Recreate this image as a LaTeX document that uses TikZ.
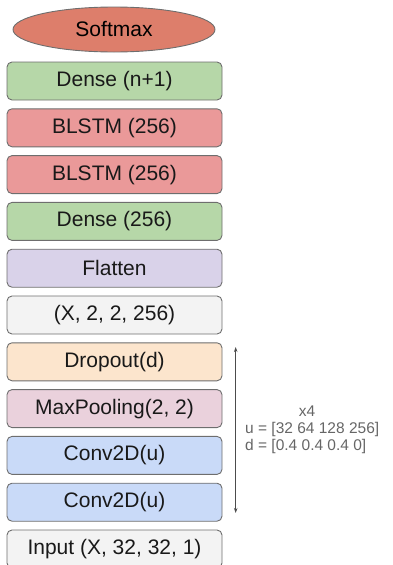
\documentclass[tikz,border=0pt]{standalone}
\usepackage{fontspec}
\setmainfont{Liberation Sans}
\usetikzlibrary{shapes.geometric,arrows.meta}
\definecolor{edgegray}{HTML}{6E6E6E}
\definecolor{smx}{HTML}{DD7E6B}
\definecolor{dns}{HTML}{B6D7A8}
\definecolor{bls}{HTML}{EA9999}
\definecolor{flt}{HTML}{D9D2E9}
\definecolor{gry}{HTML}{F3F3F3}
\definecolor{drp}{HTML}{FCE5CD}
\definecolor{mxp}{HTML}{EAD1DC}
\definecolor{cnv}{HTML}{C9DAF8}
\definecolor{txtgray}{HTML}{666666}
\tikzset{
  layer/.style={draw=edgegray, line width=0.9pt, rounded corners=5pt,
    minimum width=215pt, minimum height=38pt, inner sep=0pt,
    font=\fontsize{21}{24}\selectfont, text=black!90},
  note/.style={font=\fontsize{15.5}{18}\selectfont, text=txtgray, inner sep=0pt}
}
\begin{document}
\begin{tikzpicture}[x=1pt,y=-1pt]
\useasboundingbox (0,0) rectangle (393,565);
\node[ellipse, draw=edgegray, line width=0.9pt, fill=smx, minimum width=202pt, minimum height=45pt, inner sep=0pt, font=\fontsize{21}{24}\selectfont] (softmax) at (114,29.5) {Softmax};
\node[layer, fill=dns] (d1) at (114.5,81) {Dense (n+1)};
\node[layer, fill=bls] (b1) at (114.5,127.8) {BLSTM (256)};
\node[layer, fill=bls] (b2) at (114.5,174.6) {BLSTM (256)};
\node[layer, fill=dns] (d2) at (114.5,221.4) {Dense (256)};
\node[layer, fill=flt] (fl) at (114.5,268.2) {Flatten};
\node[layer, fill=gry] (sh) at (114.5,315) {(X, 2, 2, 256)};
\node[layer, fill=drp] (dr) at (114.5,361.8) {Dropout(d)};
\node[layer, fill=mxp] (mp) at (114.5,408.6) {MaxPooling(2, 2)};
\node[layer, fill=cnv] (c1) at (114.5,455.4) {Conv2D(u)};
\node[layer, fill=cnv] (c2) at (114.5,502.2) {Conv2D(u)};
\node[layer, fill=gry] (in) at (114.5,549) {Input (X, 32, 32, 1)};
\coordinate (atop) at (235.7,347);
\coordinate (abot) at (235.7,513);
\draw[line width=0.8pt, draw=black!70, {Stealth[length=5pt,width=3.5pt]}-{Stealth[length=5pt,width=3.5pt]}] (atop) -- (abot);
\node[note, anchor=base] (x4) at (307,416) {x4};
\node[note, anchor=base west] (ul) at (245,433) {u = [32 64 128 256]};
\node[note, anchor=base west] (dl) at (245,450) {d = [0.4 0.4 0.4 0]};
\end{tikzpicture}
\end{document}
